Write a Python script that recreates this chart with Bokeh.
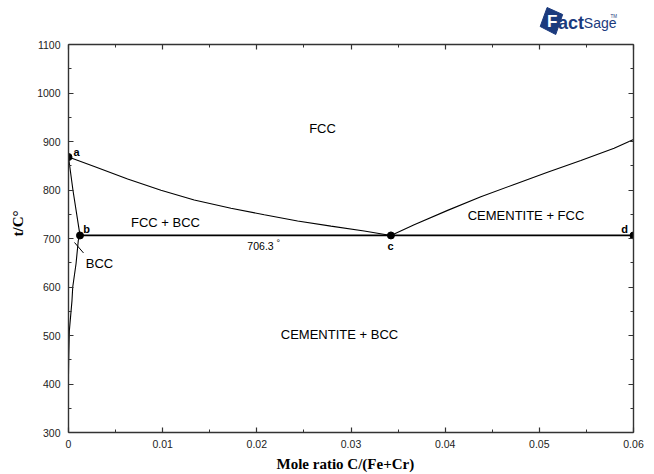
from bokeh.plotting import figure
from bokeh.layouts import column
from bokeh.models import (Label, FixedTicker, NumeralTickFormatter,
                          LinearAxis, Range1d, CustomJSTickFormatter)
from bokeh.core.properties import value
from bokeh.embed import file_html
from bokeh.resources import INLINE

# ---------------- data ----------------
# FCC / (FCC+BCC) boundary: a -> c
ac_x = [0.0, 0.00274, 0.00628, 0.00982, 0.01335, 0.01725, 0.02079, 0.02433, 0.02787, 0.0314, 0.03424]
ac_t = [868, 848.5, 822.5, 799.5, 779.5, 762.5, 749, 736, 725.5, 715.5, 706.3]
# FCC / (CEMENTITE+FCC) boundary: c -> right edge
cd_x = [0.03424, 0.03671, 0.04026, 0.04379, 0.04733, 0.05087, 0.05441, 0.05794, 0.05953, 0.06]
cd_t = [706.3, 728.5, 758, 786, 811.5, 836.5, 861, 886, 900, 904]
# BCC / (FCC+BCC) boundary: a -> b
ab_x = [0.0, 0.00047, 0.00122]
ab_t = [868, 800, 706.3]
# BCC solvus below b
bs_x = [0.00122, 0.00104, 0.0008, 0.00045, 0.00037, 0.00009, 0.00003, 0.0]
bs_t = [706.3, 696, 648, 600, 572, 510, 460, 420]
# eutectoid tie line b -> d
tie_x = [0.00122, 0.06]
tie_t = [706.3, 706.3]
# invariant points
pt_x = [0.0, 0.00122, 0.03424, 0.06]
pt_t = [868, 706.3, 706.3, 706.3]

x_ticks = [0, 0.01, 0.02, 0.03, 0.04, 0.05, 0.06]
x_minor = [0.005, 0.015, 0.025, 0.035, 0.045, 0.055]
y_ticks = [300, 400, 500, 600, 700, 800, 900, 1000, 1100]
y_minor = [350, 450, 550, 650, 750, 850, 950, 1050]

# ---------------- layout numbers ----------------
W, HTOT = 654, 474
LOGO_H = 38
FL, FT, FW, FH = 68, 44, 565, 389   # frame in page px
H = HTOT - LOGO_H

# ---------------- logo strip ----------------
logo = figure(width=W, height=LOGO_H, x_range=Range1d(0, W), y_range=Range1d(LOGO_H, 0),
              output_backend="svg", toolbar_location=None,
              x_axis_type=None, y_axis_type=None,
              min_border=0, min_border_left=0, min_border_right=0,
              min_border_top=0, min_border_bottom=0)
logo.outline_line_color = None
logo.xgrid.visible = False
logo.ygrid.visible = False
NAVY = "#1b3a7d"
SANS = value("Liberation Sans")
logo.patch([546, 554, 572, 564], [26, 7, 14, 34], fill_color=NAVY, line_color=NAVY)
logo.text([560], [21], text=["F"], text_font=SANS, text_font_size="17px",
          text_font_style="bold", text_color="white", text_align="center", text_baseline="middle")
logo.text([566.5], [22.5], text=["act"], text_font=SANS, text_font_size="18px",
          text_font_style="bold", text_color=NAVY, text_align="left", text_baseline="middle")
logo.text([596.5], [22.5], text=["Sage"], text_font=SANS, text_font_size="14px",
          text_color=NAVY, text_align="left", text_baseline="middle")
logo.text([627.5], [15.5], text=["TM"], text_font=SANS, text_font_size="4.5px",
          text_color=NAVY, text_align="left", text_baseline="middle")

# ---------------- main figure ----------------
p = figure(width=W, height=H, x_range=Range1d(0, 0.06), y_range=Range1d(300, 1100),
           output_backend="svg", toolbar_location=None,
           min_border_left=FL, min_border_right=W - FL - FW,
           min_border_top=FT - LOGO_H, min_border_bottom=H - (FT - LOGO_H) - FH)
p.xgrid.visible = False
p.ygrid.visible = False
p.outline_line_color = None
p.background_fill_color = "white"
p.border_fill_color = "white"

def dx(px):
    return (px - FL) / FW * 0.06

def dy(py):
    return 1100 - (py - FT) / FH * 800

AX = "#333333"
def style(ax, ticks, minor):
    ax.ticker = FixedTicker(ticks=ticks, minor_ticks=minor)
    ax.axis_line_color = AX
    ax.axis_line_width = 1.4
    ax.major_tick_in = 5
    ax.major_tick_out = 0
    ax.minor_tick_in = 3
    ax.minor_tick_out = 0
    ax.major_tick_line_color = AX
    ax.minor_tick_line_color = AX
    ax.major_tick_line_width = 1.2
    ax.minor_tick_line_width = 1.0
    ax.major_label_text_font = "Liberation Sans"
    ax.major_label_text_font_size = "10.5px"
    ax.major_label_text_color = "#222222"

style(p.xaxis[0], x_ticks, x_minor)
style(p.yaxis[0], y_ticks, y_minor)
p.xaxis[0].formatter = NumeralTickFormatter(format="0.[00]")
p.xaxis[0].major_label_standoff = 7
p.yaxis[0].major_label_standoff = 8

p.xaxis[0].axis_label = "Mole ratio C/(Fe+Cr)" + "\u00a0" * 3
p.xaxis[0].axis_label_text_font = "Liberation Serif"
p.xaxis[0].axis_label_text_font_style = "bold"
p.xaxis[0].axis_label_text_font_size = "15px"
p.xaxis[0].axis_label_text_color = "black"
p.xaxis[0].axis_label_standoff = 5

p.yaxis[0].axis_label = "\u00a0" * 8 + "t/C\u00b0"
p.yaxis[0].axis_label_text_font = "Liberation Serif"
p.yaxis[0].axis_label_text_font_style = "bold"
p.yaxis[0].axis_label_text_font_size = "15px"
p.yaxis[0].axis_label_text_color = "black"
p.yaxis[0].axis_label_standoff = 8

blank = CustomJSTickFormatter(code="return ''")
top = LinearAxis()
right = LinearAxis()
style(top, x_ticks, x_minor)
style(right, y_ticks, y_minor)
for ax in (top, right):
    ax.formatter = blank
    ax.major_label_text_font_size = "0px"
    ax.major_label_standoff = 0
    ax.axis_label_standoff = 0
p.add_layout(top, "above")
p.add_layout(right, "right")

# ---------------- curves ----------------
p.line(ac_x, ac_t, line_color="black", line_width=1.1)
p.line(cd_x, cd_t, line_color="black", line_width=1.1)
p.line(ab_x, ab_t, line_color="black", line_width=1.1)
p.line(bs_x, bs_t, line_color="black", line_width=1.1)
p.line(tie_x, tie_t, line_color="black", line_width=1.7)
# leader line for BCC label
p.line([dx(74), dx(83)], [dy(242.5), dy(253)], line_color="black", line_width=1.0)
p.scatter(pt_x, pt_t, size=7, color="black")

def lab(text, px, py, size="13px", bold=False, align="center", font="Liberation Sans",
        color="black", baseline="middle"):
    p.add_layout(Label(x=dx(px), y=dy(py), text=text, text_font=font,
                       text_font_size=size, text_font_style="bold" if bold else "normal",
                       text_align=align, text_baseline=baseline, text_color=color))

# point labels
lab("a", 76, 152, "11px", True)
lab("b", 86, 228.5, "11px", True)
lab("c", 390, 246, "11px", True)
lab("d", 624, 228.5, "11px", True)

# region labels
lab("FCC", 322, 128)
lab("FCC + BCC", 165, 222.5)
lab("CEMENTITE + FCC", 525.5, 215)
lab("CEMENTITE + BCC", 339, 335)
lab("BCC", 99, 264)
lab("706.3", 260, 246, "10.5px")
lab("\u00b0", 276, 237.5, "9px", align="left", baseline="top")

open("out.html", "w").write(file_html(column(logo, p, spacing=0), INLINE))
